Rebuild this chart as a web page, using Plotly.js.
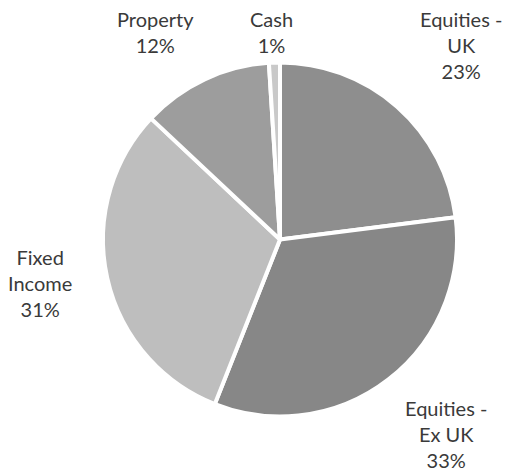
<!DOCTYPE html>
<html>
<head>
<meta charset="utf-8">
<script src="https://cdn.plot.ly/plotly-3.0.1.min.js"></script>
<style>html,body{margin:0;padding:0;background:#fff;}#chart{width:509px;height:471px;}</style>
</head>
<body>
<div id="chart"></div>
<script>
const categories = ["Equities - UK", "Equities - Ex UK", "Fixed Income", "Property", "Cash"];
const labelLines = [["Equities -", "UK"], ["Equities -", "Ex UK"], ["Fixed", "Income"], ["Property"], ["Cash"]];
const values = [23, 33, 31, 12, 1];
const colors = ["#8e8e8e", "#878787", "#bebebe", "#9d9d9d", "#c9c9c9"];
const labelPos = [
  {x: 461, y: 5},
  {x: 446, y: 394},
  {x: 40, y: 243},
  {x: 155, y: 5},
  {x: 271, y: 5}
];

const annotations = categories.map((c, i) => ({
  xref: "paper", yref: "paper",
  x: labelPos[i].x / 509, y: 1 - labelPos[i].y / 471,
  xanchor: "center", yanchor: "top",
  showarrow: false,
  align: "center",
  text: labelLines[i].concat([values[i] + "%"]).join("<br>"),
  font: {family: "Lato, 'Open Sans', sans-serif", size: 20, color: "#3a3a3a"}
}));

const data = [{
  type: "pie",
  labels: categories,
  values: values,
  sort: false,
  direction: "clockwise",
  rotation: 0,
  textinfo: "none",
  hoverinfo: "label+percent",
  marker: {colors: colors, line: {color: "#ffffff", width: 4}},
  domain: {x: [103/509, 457/509], y: [1 - 417/471, 1 - 62/471]},
  showlegend: false
}];

const layout = {
  width: 509, height: 471,
  margin: {l: 0, r: 0, t: 0, b: 0},
  paper_bgcolor: "#ffffff",
  plot_bgcolor: "#ffffff",
  showlegend: false,
  annotations: annotations
};

Plotly.newPlot("chart", data, layout, {displayModeBar: false, staticPlot: true});
</script>
</body>
</html>
